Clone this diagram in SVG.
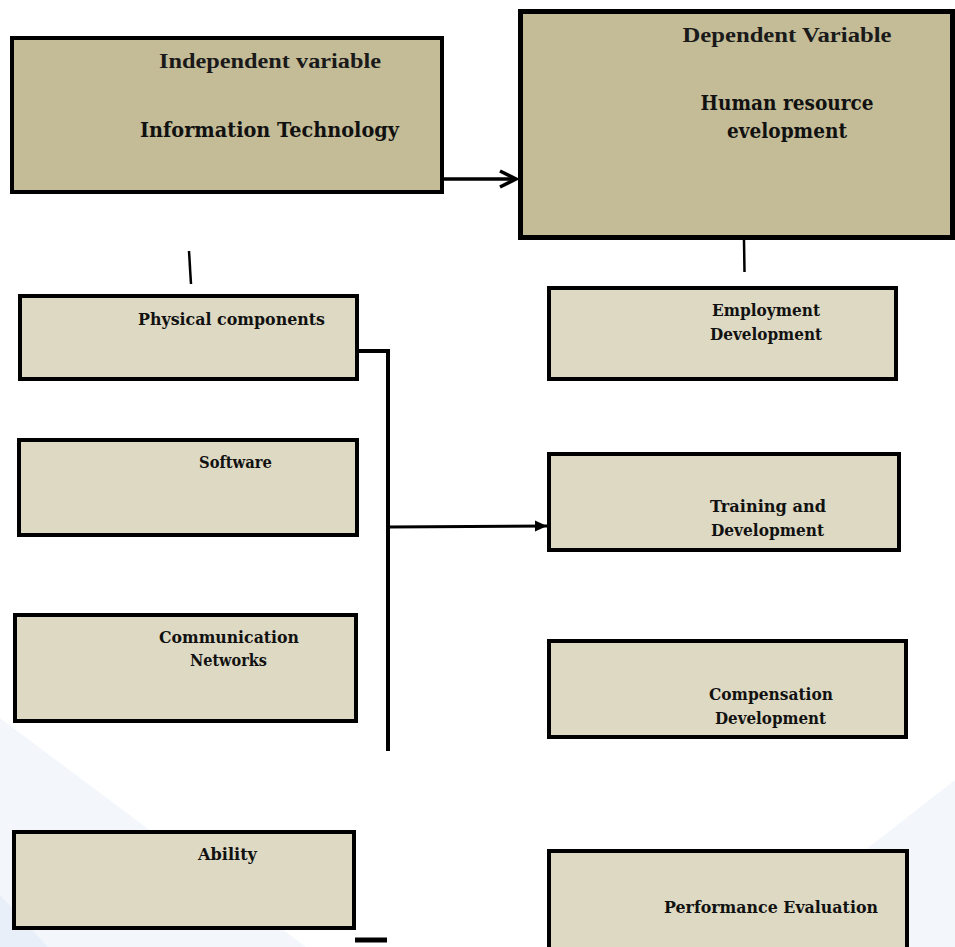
<svg xmlns="http://www.w3.org/2000/svg" width="955" height="947" viewBox="0 0 955 947">
<style>
.main{fill:#c4bc97;stroke:#000;}
.sub{fill:#ddd9c3;stroke:#000;stroke-width:4;}
.t1{font-family:"Liberation Serif",serif;font-weight:bold;font-size:20px;fill:#1a1a1a;text-anchor:middle;}
.t2{font-family:"DejaVu Serif",serif;font-weight:bold;font-size:21px;fill:#111;text-anchor:middle;}
.t3{font-family:"DejaVu Serif",serif;font-weight:bold;font-size:17px;fill:#111;}
.ln{stroke:#000;fill:none;}
</style>
<defs>
<marker id="openArrow" markerUnits="userSpaceOnUse" markerWidth="22" markerHeight="22" refX="18" refY="10" orient="auto">
<polyline points="2,2 18,10 2,18" fill="none" stroke="#000" stroke-width="3.5"/>
</marker>
<marker id="solidArrow" markerUnits="userSpaceOnUse" markerWidth="14" markerHeight="14" refX="12" refY="7" orient="auto">
<polygon points="0,1.5 12,7 0,12.5" fill="#000"/>
</marker>
</defs>
<g id="background">
<polygon points="0,718 306,947 0,947" fill="#f3f7fc"/>
<polygon points="0,895 48,947 0,947" fill="#e8eff8"/>
<polygon points="955,780 740,947 955,947" fill="#f3f7fc"/>
</g>
<g id="connectors">
<line class="ln" x1="444" y1="179" x2="516" y2="179" stroke-width="3.5" marker-end="url(#openArrow)"/>
<line class="ln" x1="189" y1="251" x2="191" y2="284" stroke-width="2.5"/>
<line class="ln" x1="744" y1="240" x2="744.5" y2="272" stroke-width="2.5"/>
<path class="ln" d="M359,351 H388 V751" stroke-width="4"/>
<line class="ln" x1="388" y1="527" x2="547" y2="526" stroke-width="3" marker-end="url(#solidArrow)"/>
<line class="ln" x1="355" y1="940" x2="387" y2="940" stroke-width="5"/>
</g>
<g id="independent">
<rect class="main" x="12" y="38" width="430" height="154" stroke-width="4"/>
<text class="t1" x="270" y="68" textLength="222" lengthAdjust="spacingAndGlyphs">Independent variable</text>
<text class="t2" x="269.5" y="137" textLength="259" lengthAdjust="spacingAndGlyphs">Information Technology</text>
</g>
<g id="dependent">
<rect class="main" x="520.5" y="11.5" width="432" height="226" stroke-width="5"/>
<text class="t1" x="787" y="42" textLength="209" lengthAdjust="spacingAndGlyphs">Dependent Variable</text>
<text class="t2" x="787" y="110" textLength="173" lengthAdjust="spacingAndGlyphs">Human resource</text>
<text class="t2" x="787" y="138" textLength="120" lengthAdjust="spacingAndGlyphs">evelopment</text>
</g>
<g id="physical">
<rect class="sub" x="20" y="296" width="337" height="83"/>
<text class="t3" x="138" y="325" textLength="187" lengthAdjust="spacingAndGlyphs">Physical components</text>
</g>
<g id="software">
<rect class="sub" x="19" y="440" width="338" height="95"/>
<text class="t3" x="199" y="468" textLength="73" lengthAdjust="spacingAndGlyphs">Software</text>
</g>
<g id="communication">
<rect class="sub" x="15" y="615" width="341" height="106"/>
<text class="t3" x="159" y="643" textLength="140" lengthAdjust="spacingAndGlyphs">Communication</text>
<text class="t3" x="190" y="666" textLength="77" lengthAdjust="spacingAndGlyphs">Networks</text>
</g>
<g id="ability">
<rect class="sub" x="14" y="832" width="340" height="96"/>
<text class="t3" x="198" y="860" textLength="59" lengthAdjust="spacingAndGlyphs">Ability</text>
</g>
<g id="employment">
<rect class="sub" x="549" y="288" width="347" height="91"/>
<text class="t3" x="712" y="316" textLength="108" lengthAdjust="spacingAndGlyphs">Employment</text>
<text class="t3" x="710" y="340" textLength="112" lengthAdjust="spacingAndGlyphs">Development</text>
</g>
<g id="training">
<rect class="sub" x="549" y="454" width="350" height="96"/>
<text class="t3" x="710" y="512" textLength="116" lengthAdjust="spacingAndGlyphs">Training and</text>
<text class="t3" x="711" y="536" textLength="113" lengthAdjust="spacingAndGlyphs">Development</text>
</g>
<g id="compensation">
<rect class="sub" x="549" y="641" width="357" height="96"/>
<text class="t3" x="709" y="700" textLength="124" lengthAdjust="spacingAndGlyphs">Compensation</text>
<text class="t3" x="715" y="724" textLength="111" lengthAdjust="spacingAndGlyphs">Development</text>
</g>
<g id="performance">
<rect class="sub" x="549" y="851" width="358" height="110"/>
<text class="t3" x="664" y="913" textLength="214" lengthAdjust="spacingAndGlyphs">Performance Evaluation</text>
</g>
</svg>
